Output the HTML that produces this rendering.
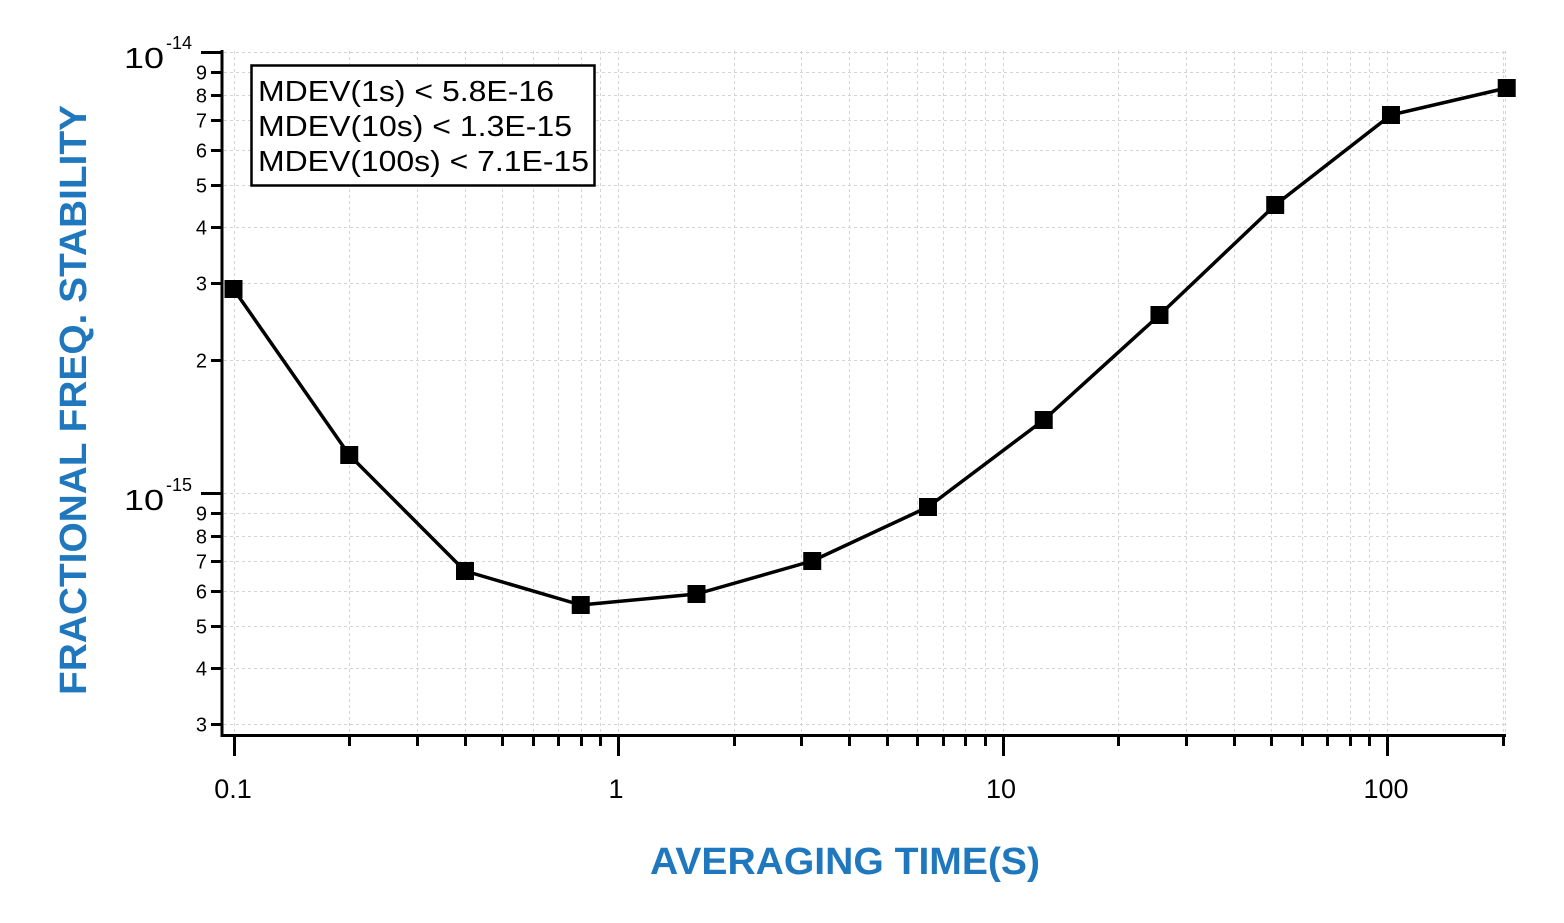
<!DOCTYPE html>
<html><head><meta charset="utf-8"><style>
html,body{margin:0;padding:0;background:#fff;}
svg{display:block;font-family:"Liberation Sans",sans-serif;}
</style></head><body>
<svg id="s" width="1564" height="923" viewBox="0 0 1564 923" xmlns="http://www.w3.org/2000/svg">
<g id="grid" stroke="#d4d4d4" stroke-width="1" stroke-dasharray="3,3"></g>
<g id="axes" stroke="#000" stroke-width="3" fill="none">
<line x1="222" y1="50" x2="222" y2="737"/>
<line x1="220.5" y1="735.5" x2="1506" y2="735.5"/>
</g>
<g id="ticks" stroke="#000" stroke-width="3"></g>
<g id="labels" font-size="20" fill="#000"></g>
<polyline id="line" fill="none" stroke="#000" stroke-width="3.5" stroke-linejoin="round"></polyline>
<g id="marks" fill="#000"></g>
<rect x="251.5" y="65.5" width="343" height="120" fill="#fff" stroke="#000" stroke-width="2.5"/>
<g font-size="29" fill="#000">
<text x="258" y="101" textLength="296" lengthAdjust="spacingAndGlyphs">MDEV(1s) &lt; 5.8E-16</text>
<text x="258" y="136" textLength="314" lengthAdjust="spacingAndGlyphs">MDEV(10s) &lt; 1.3E-15</text>
<text x="258" y="171" textLength="331" lengthAdjust="spacingAndGlyphs">MDEV(100s) &lt; 7.1E-15</text>
</g>
<g font-size="29" fill="#000">
<text x="124" y="68" textLength="40" lengthAdjust="spacingAndGlyphs">10</text><text x="166" y="49" font-size="18">-14</text>
<text x="124" y="510" textLength="40" lengthAdjust="spacingAndGlyphs">10</text><text x="166" y="491" font-size="18">-15</text>
</g>
<g font-size="27" fill="#000" text-anchor="middle">
<text x="233" y="798">0.1</text>
<text x="616" y="798">1</text>
<text x="1001" y="798">10</text>
<text x="1386" y="798">100</text>
</g>
<text x="845" y="874" text-anchor="middle" font-size="38" font-weight="bold" fill="#1f77bd" textLength="390" lengthAdjust="spacingAndGlyphs">AVERAGING TIME(S)</text>
<text transform="translate(86,400) rotate(-90)" text-anchor="middle" font-size="38" font-weight="bold" fill="#1f77bd" textLength="590" lengthAdjust="spacingAndGlyphs">FRACTIONAL FREQ. STABILITY</text>
</svg>
<script>
var NS="http://www.w3.org/2000/svg";
function el(p,t,a,txt){var e=document.createElementNS(NS,t);for(var k in a)e.setAttribute(k,a[k]);if(txt)e.textContent=txt;document.getElementById(p).appendChild(e);return e;}
function X(v){return 618+Math.log10(v)*384.5;}
function Y(m){return 493-Math.log10(m)*441;} // m relative to 1e-15
// x grid & ticks
var xs=[];
for(var d=-1;d<=2;d++)for(var i=1;i<=9;i++){var v=i*Math.pow(10,d);if(v<0.1-1e-9||v>205)continue;xs.push([v,i==1]);}
xs.forEach(function(p){var x=Math.round(X(p[0]))+0.5;el("grid","line",{x1:x,y1:51,x2:x,y2:734});
el("ticks","line",{x1:x,y1:736,x2:x,y2:p[1]?756:746});});
el("grid","line",{x1:1505.5,y1:51,x2:1505.5,y2:734});
// y grid & ticks
var ys=[];
for(var i=3;i<=9;i++)ys.push([i/10,i]);
ys.push([1,0]);
for(var i=2;i<=9;i++)ys.push([i,i]);
ys.push([10,0]);
ys.forEach(function(p){var y=Math.round(Y(p[0]))+0.5;el("grid","line",{x1:224,y1:y,x2:1506,y2:y});
el("ticks","line",{x1:p[1]?211:201,y1:y,x2:222,y2:y});
if(p[1])el("labels","text",{x:207,y:y+7,"text-anchor":"end"},String(p[1]));});
// data
var px=[0.1,0.2,0.4,0.8,1.6,3.2,6.4,12.8,25.6,51.2,102.4,204.8];
var py=[289,455,571,605,594,561,507,420,315,205,115,88];
var pts=[];
for(var i=0;i<px.length;i++){var x=X(px[i]);pts.push(x+","+py[i]);el("marks","rect",{x:x-9,y:py[i]-9,width:18,height:18});}
document.getElementById("line").setAttribute("points",pts.join(" "));
</script>
</body></html>
